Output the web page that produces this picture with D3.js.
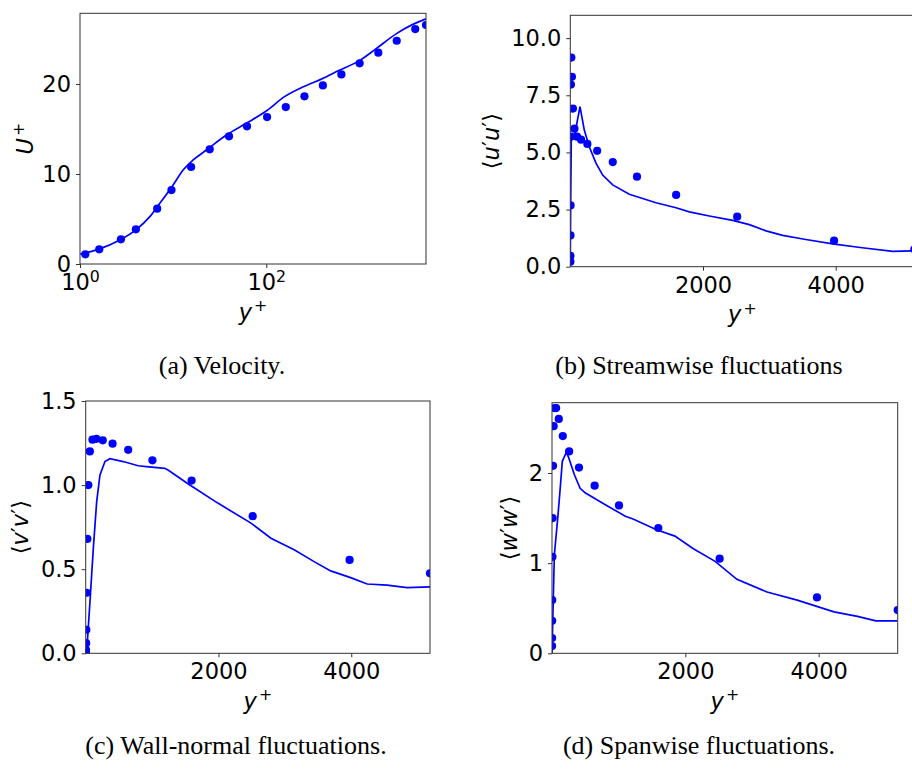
<!DOCTYPE html>
<html>
<head>
<meta charset="utf-8">
<script src="https://cdn.jsdelivr.net/npm/d3@7"></script>
<style>
body { margin: 0; background: #fff; }
svg { display: block; }
</style>
</head>
<body>
<div id="chart"></div>
<script>
// DNS reference points, same y+ stations in every panel
const dnsYPlus = [1.14, 1.61, 2.75, 3.98, 6.74, 9.6, 15.6, 24.7, 39.8, 62.1, 102, 162, 257, 405, 640, 1005, 1595, 2515, 3975, 5186];
const dnsU  = [1.08, 1.63, 2.74, 3.85, 6.15, 8.22, 10.78, 12.74, 14.19, 15.3, 16.33, 17.44, 18.63, 19.85, 21.07, 22.3, 23.48, 24.81, 26.11, 26.56];
const dnsUU = [0.22, 0.47, 1.37, 2.68, 5.69, 7.97, 9.15, 8.31, 6.92, 6.04, 5.69, 5.56, 5.37, 5.07, 4.58, 3.94, 3.14, 2.19, 1.14, 0.76];
const dnsVV = [0.0, 0.002, 0.006, 0.02, 0.06, 0.14, 0.36, 0.68, 1.0, 1.2, 1.27, 1.275, 1.266, 1.246, 1.21, 1.147, 1.027, 0.815, 0.555, 0.476];
const dnsWW = [0.08, 0.17, 0.36, 0.59, 1.07, 1.50, 2.08, 2.52, 2.72, 2.72, 2.60, 2.41, 2.24, 2.06, 1.86, 1.64, 1.39, 1.05, 0.62, 0.48];

// model curves
const modelYU = [1.0, 1.57, 2.68, 4.05, 5.62, 7.2, 10, 12.8, 16.4, 22.8, 37.3, 61, 100, 157, 250, 400, 600, 1000, 1500, 2500, 3700, 4786, 5186];
const modelU  = [1.11, 1.63, 2.67, 3.85, 5.26, 6.74, 8.78, 10.44, 11.56, 12.67, 14.33, 15.63, 17.0, 18.6, 19.7, 20.6, 21.5, 22.6, 23.9, 25.6, 26.6, 27.1, 27.25];

const modelYUU = [0, 5, 15, 40, 71, 146, 211, 286, 387, 488, 639, 889, 1292, 1593, 1794, 2095, 2448, 2698, 2950, 3201, 3550, 3955, 4400, 4860, 5186];
const modelUU  = [0, 2.5, 5.6, 5.75, 5.84, 7.0, 5.98, 5.25, 4.53, 4.01, 3.58, 3.17, 2.8, 2.58, 2.4, 2.22, 2.03, 1.84, 1.57, 1.37, 1.19, 1.0, 0.83, 0.67, 0.7];

const modelYVV = [0, 15, 65, 115, 165, 215, 290, 365, 565, 790, 915, 1190, 1240, 1540, 1990, 2490, 2790, 3140, 3440, 3690, 3990, 4240, 4540, 4840, 5186];
const modelVV  = [0, 0.01, 0.31, 0.625, 0.90, 1.06, 1.14, 1.157, 1.14, 1.115, 1.11, 1.10, 1.09, 1.008, 0.893, 0.774, 0.684, 0.615, 0.545, 0.49, 0.45, 0.412, 0.405, 0.39, 0.395];

const modelYWW = [0, 35, 86, 120, 155, 215, 246, 336, 422, 497, 749, 1100, 1216, 1568, 1844, 2121, 2447, 2774, 3226, 3678, 4231, 4582, 4858, 5186];
const modelWW  = [0.0, 1.09, 1.50, 1.80, 2.13, 2.23, 2.18, 1.98, 1.83, 1.78, 1.67, 1.52, 1.49, 1.37, 1.30, 1.16, 1.02, 0.82, 0.68, 0.59, 0.46, 0.41, 0.36, 0.36];

const tickFont = 22.5;
const blue = '#0000ff';

const svg = d3.select('#chart').append('svg')
    .attr('width', 912)
    .attr('height', 769);

const panels = [
    { id: 'a', x0: 80, x1: 426, y0: 13.3, y1: 264, log: true, xDomain: [1, 5186], yDomain: [0, 27.86],
      xTicks: [1, 100], yTicks: [0, 10, 20], yFmt: d3.format('d'),
      lineX: modelYU, lineY: modelU, dots: dnsU, curve: d3.curveMonotoneX,
      label: [{t: 'U', it: true}, {t: '+', sup: true}], labelX: 33,
      caption: '(a) Velocity.', capX: 222, capY: 374 },
    { id: 'b', x0: 570.3, x1: 914.4, y0: 15.3, y1: 266.7, xDomain: [0, 5186], yDomain: [0, 11],
      xTicks: [2000, 4000], yTicks: [0, 2.5, 5, 7.5, 10], yFmt: d3.format('.1f'),
      lineX: modelYUU, lineY: modelUU, dots: dnsUU,
      label: [{t: '⟨'}, {t: 'u', it: true}, {t: '′'}, {t: 'u', it: true}, {t: '′'}, {t: '⟩'}], labelX: 499,
      caption: '(b) Streamwise fluctuations', capX: 699, capY: 374 },
    { id: 'c', x0: 85.7, x1: 430, y0: 401, y1: 653.3, xDomain: [0, 5186], yDomain: [0, 1.5],
      xTicks: [2000, 4000], yTicks: [0, 0.5, 1, 1.5], yFmt: d3.format('.1f'),
      lineX: modelYVV, lineY: modelVV, dots: dnsVV,
      label: [{t: '⟨'}, {t: 'v', it: true}, {t: '′'}, {t: 'v', it: true}, {t: '′'}, {t: '⟩'}], labelX: 28,
      caption: '(c) Wall-normal fluctuations.', capX: 236, capY: 754 },
    { id: 'd', x0: 552, x1: 897.7, y0: 402.7, y1: 653.3, xDomain: [0, 5186], yDomain: [0, 2.78],
      xTicks: [2000, 4000], yTicks: [0, 1, 2], yFmt: d3.format('d'),
      lineX: modelYWW, lineY: modelWW, dots: dnsWW,
      label: [{t: '⟨'}, {t: 'w', it: true}, {t: '′'}, {t: 'w', it: true}, {t: '′'}, {t: '⟩'}], labelX: 517,
      caption: '(d) Spanwise fluctuations.', capX: 699, capY: 754 }
];

function addParts(text, parts) {
    parts.forEach(p => {
        const ts = text.append('tspan').text(p.t);
        if (p.it) ts.attr('font-style', 'italic');
        if (p.sup) ts.attr('font-size', '0.7em').attr('dy', '-0.55em').attr('dx', '2');
    });
}

panels.forEach(p => {
    const g = svg.append('g');
    const x = (p.log ? d3.scaleLog() : d3.scaleLinear()).domain(p.xDomain).range([p.x0, p.x1]);
    const y = d3.scaleLinear().domain(p.yDomain).range([p.y1, p.y0]);

    svg.append('clipPath').attr('id', 'clip-' + p.id)
        .append('rect')
        .attr('x', p.x0).attr('y', p.y0)
        .attr('width', p.x1 - p.x0).attr('height', p.y1 - p.y0);

    const plot = g.append('g').attr('clip-path', `url(#clip-${p.id})`);

    const line = d3.line()
        .x(d => x(d[0]))
        .y(d => y(d[1]))
        .curve(p.curve || d3.curveLinear);

    plot.append('path')
        .datum(d3.zip(p.lineX, p.lineY))
        .attr('fill', 'none')
        .attr('stroke', blue)
        .attr('stroke-width', 1.7)
        .attr('d', line);

    plot.selectAll('circle')
        .data(d3.zip(dnsYPlus, p.dots))
        .join('circle')
        .attr('cx', d => x(d[0]))
        .attr('cy', d => y(d[1]))
        .attr('r', 4.1)
        .attr('fill', blue);

    const xAxis = d3.axisBottom(x).tickValues(p.xTicks).tickSize(4).tickPadding(6);
    if (!p.log) xAxis.tickFormat(d3.format('d'));
    const ax = g.append('g')
        .attr('transform', `translate(0,${p.y1})`)
        .call(xAxis);
    const ay = g.append('g')
        .attr('transform', `translate(${p.x0},0)`)
        .call(d3.axisLeft(y).tickValues(p.yTicks).tickSize(4).tickPadding(5).tickFormat(p.yFmt));

    [ax, ay].forEach(a => {
        a.attr('font-family', 'DejaVu Sans').attr('font-size', tickFont);
        a.select('.domain').remove();
        a.selectAll('.tick line').attr('stroke', '#333');
        a.selectAll('.tick text').attr('fill', '#000');
    });

    if (p.log) {
        ax.selectAll('.tick text').each(function(d) {
            const t = d3.select(this).text('');
            t.append('tspan').text('10');
            t.append('tspan').attr('font-size', '0.7em').attr('dy', '-0.48em')
                .text(Math.round(Math.log10(d)));
        });
    }

    g.append('rect')
        .attr('x', p.x0).attr('y', p.y0)
        .attr('width', p.x1 - p.x0).attr('height', p.y1 - p.y0)
        .attr('fill', 'none')
        .attr('stroke', '#333')
        .attr('stroke-width', 1);

    // y label (rotated)
    const yl = g.append('text')
        .attr('transform', `translate(${p.labelX},${(p.y0 + p.y1) / 2}) rotate(-90)`)
        .attr('text-anchor', 'middle')
        .attr('font-family', 'DejaVu Sans')
        .attr('font-size', tickFont)
        .attr('fill', '#000');
    addParts(yl, p.label);

    // x label
    const xl = g.append('text')
        .attr('x', (p.x0 + Math.min(p.x1, 915)) / 2)
        .attr('y', p.y1 + 55.5)
        .attr('text-anchor', 'middle')
        .attr('font-family', 'DejaVu Sans')
        .attr('font-size', tickFont)
        .attr('fill', '#000');
    addParts(xl, [{t: 'y', it: true}, {t: '+', sup: true}]);

    svg.append('text')
        .attr('x', p.capX)
        .attr('y', p.capY)
        .attr('text-anchor', 'middle')
        .attr('font-family', 'Liberation Serif')
        .attr('font-size', 26)
        .attr('fill', '#000')
        .text(p.caption);
});
</script>
</body>
</html>
